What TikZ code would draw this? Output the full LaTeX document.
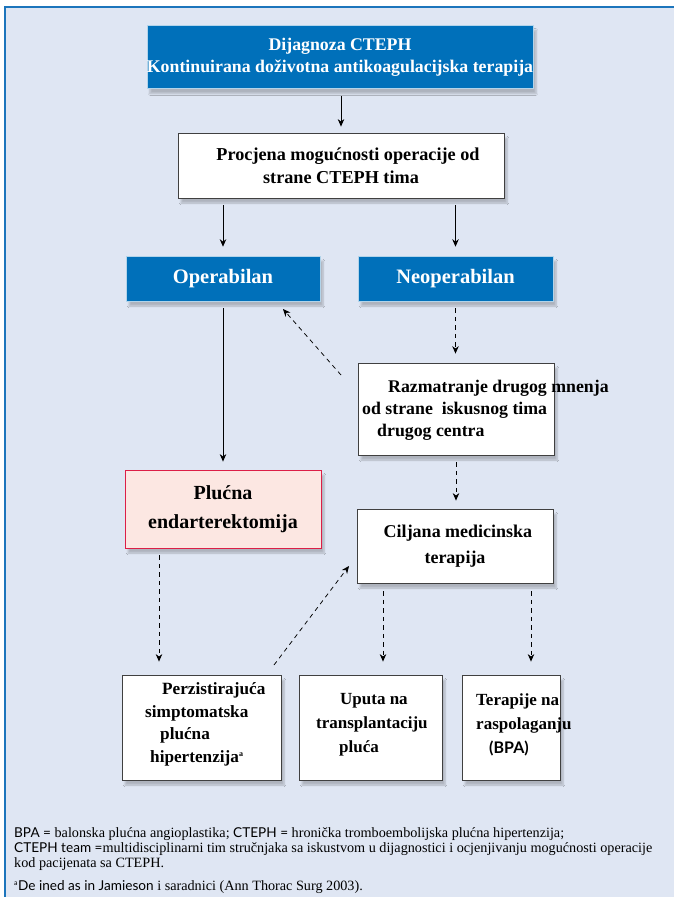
\documentclass[tikz,border=0pt]{standalone}
\usepackage{fontspec}
\setmainfont{Liberation Serif}
\newfontfamily\gillf{Lato}
\usetikzlibrary{arrows.meta,shadows.blur,calc}
\definecolor{bgblue}{HTML}{DFE6F3}
\definecolor{boxblue}{HTML}{0070BA}
\definecolor{frameblue}{HTML}{1C75BC}
\definecolor{pinkfill}{HTML}{FCE7E2}
\definecolor{pinkdraw}{HTML}{DC1F47}
\tikzset{
  shad/.style={blur shadow={shadow xshift=3pt,shadow yshift=-5pt,shadow opacity=22,shadow blur steps=6}},
  bluebox/.style={shad,fill=boxblue,draw=white!70!boxblue,line width=0.6pt,text=white,font=\bfseries,inner sep=0pt,align=center},
  whitebox/.style={shad,fill=white,draw=black!75,line width=0.8pt,text=black,font=\bfseries,inner sep=0pt,align=center},
  pinkbox/.style={shad,fill=pinkfill,draw=pinkdraw,line width=0.8pt,text=black,font=\bfseries,inner sep=0pt,align=center},
  txt/.style={inner sep=0pt,font=\bfseries,align=left,anchor=west},
  arr/.style={-{Stealth[length=7.5pt,width=6.5pt]},line width=0.75pt,black},
  darr/.style={arr,dash pattern=on 4.5pt off 4pt}
}
\begin{document}
\begin{tikzpicture}[x=1pt,y=-1pt]
\useasboundingbox (0,0) rectangle (674,897);
\fill[white] (0,0) rectangle (674,897);
\fill[bgblue] (5,7) rectangle (674,897);
\draw[frameblue,line width=1.4pt] (5,897) -- (5,7) -- (674,7);

% boxes
\node[bluebox,minimum width=386pt,minimum height=63pt,font=\bfseries\fontsize{17.8}{22}\selectfont] (top) at (340,57)
  {Dijagnoza CTEPH\\Kontinuirana doživotna antikoagulacijska terapija};
\node[whitebox,minimum width=326pt,minimum height=65pt,font=\bfseries\fontsize{18.2}{23}\selectfont] (proc) at (341,165.5)
  {\hspace*{14pt}Procjena mogućnosti operacije od\\strane CTEPH tima};
\node[bluebox,minimum width=194pt,minimum height=45pt,font=\bfseries\fontsize{20.5}{23}\selectfont] (oper) at (223,278.5) {Operabilan};
\node[bluebox,minimum width=195pt,minimum height=45pt,font=\bfseries\fontsize{20.5}{23}\selectfont] (neop) at (455.5,278.5) {Neoperabilan};
\node[whitebox,minimum width=196pt,minimum height=92pt] (razm) at (456,409) {};
\node[txt,font=\bfseries\fontsize{17.8}{22}\selectfont] (razmt) at (362,410)
  {\hspace*{26pt}Razmatranje drugog mnenja\\od strane\ \ iskusnog tima\\\hspace*{15pt}drugog centra};
\node[pinkbox,minimum width=196pt,minimum height=78pt,font=\bfseries\fontsize{20}{29}\selectfont] (pl) at (223,509)
  {Plućna\\endarterektomija};
\node[whitebox,minimum width=196pt,minimum height=74pt,font=\bfseries\fontsize{18}{26}\selectfont] (cilj) at (455,546)
  {\hspace*{6pt}Ciljana medicinska\\terapija};
\node[whitebox,minimum width=159pt,minimum height=105pt] (b1) at (201.5,727.5) {};
\node[txt,font=\bfseries\fontsize{17.2}{22.5}\selectfont] (b1t) at (145,724.5)
  {\hspace*{17pt}Perzistirajuća\\simptomatska\\\hspace*{15pt}plućna\\\hspace*{5pt}hipertenzija\textsuperscript{\fontsize{8}{8}\selectfont a}};
\node[whitebox,minimum width=143pt,minimum height=105pt] (b2) at (370.5,727.5) {};
\node[txt,font=\bfseries\fontsize{17}{24}\selectfont] (b2t) at (316,725)
  {\hspace*{24pt}Uputa na\\transplantaciju\\\hspace*{23pt}pluća};
\node[whitebox,minimum width=98pt,minimum height=105pt] (b3) at (511,727.5) {};
\node[txt,font=\bfseries\fontsize{17}{24}\selectfont] (b3t) at (476,725)
  {Terapije na\\raspolaganju\\\hspace*{13pt}{\gillf\fontsize{16}{24}\selectfont\bfseries (BPA)}};

% connectors
\draw[arr,shorten <=7pt,shorten >=6pt] (top.south -| proc.north) -- (proc.north);
\draw[arr,shorten <=7pt,shorten >=9pt] (proc.south -| oper.north) -- (oper.north);
\draw[arr,shorten <=7pt,shorten >=9pt] (proc.south -| neop.north) -- (neop.north);
\draw[arr,shorten <=7pt,shorten >=8pt] (oper.south) -- (pl.north);
\draw[darr,shorten <=7pt,shorten >=9pt] (neop.south) -- (neop.south |- razm.north);
\draw[darr,shorten <=7pt,shorten >=8pt] (razm.south) -- (razm.south |- cilj.north);
\coordinate (dgA) at (341,375);
\coordinate (dgB) at (283,309);
\draw[darr] (dgA) -- (dgB);
\coordinate (dgC) at (274,665);
\coordinate (dgD) at (349,566);
\draw[darr] (dgC) -- (dgD);
\draw[darr,shorten <=7pt,shorten >=13pt] ([xshift=-64pt]pl.south) -- ([xshift=-64pt]pl.south |- b1.north);
\draw[darr,shorten <=8pt,shorten >=13pt] ([xshift=-72pt]cilj.south) -- ([xshift=-72pt]cilj.south |- b2.north);
\draw[darr,shorten <=8pt,shorten >=13pt] ([xshift=76pt]cilj.south) -- ([xshift=76pt]cilj.south |- b3.north);

% footnote
\node[anchor=north west,inner sep=0pt,align=left,font=\fontsize{14.2}{15}\selectfont] (foot) at (14,827)
  {{\gillf\fontsize{13.6}{15}\selectfont BPA =} balonska plućna angioplastika; {\gillf\fontsize{13.6}{15}\selectfont CTEPH =} hronička tromboembolijska plućna hipertenzija;\\
   {\gillf\fontsize{13.6}{15}\selectfont CTEPH team =}multidisciplinarni tim stručnjaka sa iskustvom u dijagnostici i ocjenjivanju mogućnosti operacije\\
   kod pacijenata sa CTEPH.};
\node[anchor=north west,inner sep=0pt,font=\fontsize{14.2}{15}\selectfont] (foot2) at (14,880)
  {\textsuperscript{\gillf\fontsize{7}{7}\selectfont a}{\gillf\fontsize{13.6}{15}\selectfont De ined as in Jamieson} i saradnici (Ann Thorac Surg 2003).};
\end{tikzpicture}
\end{document}
